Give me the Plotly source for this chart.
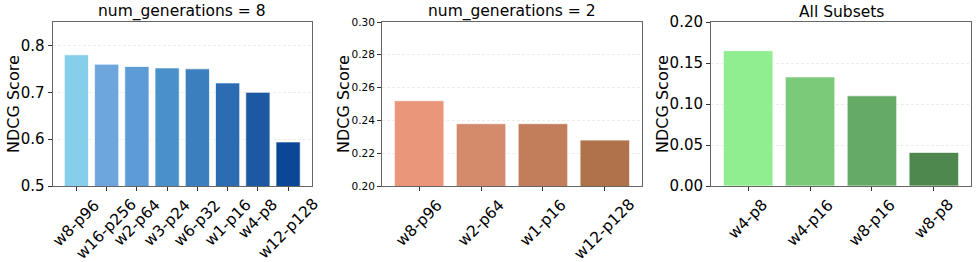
import plotly.graph_objects as go

W, H = 977, 262

# ---- data ----
cats_g8 = ["w8-p96", "w16-p256", "w2-p64", "w3-p24", "w6-p32", "w1-p16", "w4-p8", "w12-p128"]
vals_g8 = [0.780, 0.760, 0.755, 0.752, 0.750, 0.720, 0.700, 0.594]
cols_g8 = ["#87CEEB", "#6CA6DC", "#5C9BD5", "#4A90C9", "#3B7FBE", "#2B6CB3", "#1C59A2", "#0C4696"]

cats_g2 = ["w8-p96", "w2-p64", "w1-p16", "w12-p128"]
vals_g2 = [0.252, 0.238, 0.238, 0.228]
cols_g2 = ["#E9967A", "#D48B6B", "#C27D5A", "#B0724A"]

cats_all = ["w4-p8", "w4-p16", "w8-p16", "w8-p8"]
vals_all = [0.165, 0.133, 0.110, 0.041]
cols_all = ["#90EE90", "#7ACA7A", "#65AA65", "#4F884F"]

titles = ["num_generations = 8", "num_generations = 2", "All Subsets"]
yranges = [[0.5, 0.85], [0.20, 0.30], [0.0, 0.20]]
ytickvals = [[0.5, 0.6, 0.7, 0.8],
             [0.20, 0.22, 0.24, 0.26, 0.28, 0.30],
             [0.00, 0.05, 0.10, 0.15, 0.20]]
yticktext = [["0.5", "0.6", "0.7", "0.8"],
             ["0.20", "0.22", "0.24", "0.26", "0.28", "0.30"],
             ["0.00", "0.05", "0.10", "0.15", "0.20"]]
ytickfont = [15, 10.5, 15]
xranges = [[-0.79, 7.79], [-0.6, 3.6], [-0.6, 3.6]]

# pixel layout
xpix = [(52.5, 312), (382, 642), (711, 971)]
ytitle_px = [13, 343, 662]
top_px, bot_px = 22, 186

FONT = "DejaVu Sans"
fig = go.Figure()
panels = [(cats_g8, vals_g8, cols_g8), (cats_g2, vals_g2, cols_g2), (cats_all, vals_all, cols_all)]

ydom = [1 - bot_px / H, 1 - top_px / H]
annotations = []
for i, (cats, vals, cols) in enumerate(panels):
    n = "" if i == 0 else str(i + 1)
    fig.add_trace(go.Bar(
        x=cats, y=vals, width=0.8,
        marker=dict(color=cols, line=dict(color="rgba(255,255,255,0.7)", width=1)),
        xaxis="x" + n, yaxis="y" + n, showlegend=False,
    ))
    dom = [xpix[i][0] / W, xpix[i][1] / W]
    fig.layout["xaxis" + n] = dict(
        domain=dom, anchor="y" + n, type="category", range=xranges[i], automargin=False,
        showgrid=False, showline=True, linecolor="#666", linewidth=1, mirror=True,
        ticks="outside", ticklen=4, tickcolor="#333", showticklabels=False,
    )
    fig.layout["yaxis" + n] = dict(
        domain=ydom, anchor="x" + n, range=yranges[i], automargin=False,
        tickvals=ytickvals[i], ticktext=yticktext[i],
        tickfont=dict(family=FONT, size=ytickfont[i], color="black"),
        showgrid=True, gridcolor="#ececec", griddash="3px,2px", gridwidth=1,
        showline=True, linecolor="#666", linewidth=1, mirror=True,
        ticks="outside", ticklen=4, tickcolor="#333", zeroline=False,
    )
    xr = "x" + n
    for c in cats:
        annotations.append(dict(
            x=c, xref=xr, y=ydom[0], yref="paper", text=c, showarrow=False,
            textangle=-45, xanchor="center", yanchor="top", yshift=-7,
            font=dict(family=FONT, size=15.5, color="black"),
        ))
    annotations.append(dict(
        x=(xpix[i][0] + xpix[i][1]) / 2 / W, xref="paper", y=1 - 12 / H, yref="paper",
        text=titles[i], showarrow=False, xanchor="center", yanchor="middle",
        font=dict(family=FONT, size=15.5, color="black"),
    ))
    annotations.append(dict(
        x=ytitle_px[i] / W, xref="paper", y=(ydom[0] + ydom[1]) / 2, yref="paper",
        text="NDCG Score", showarrow=False, textangle=-90, xanchor="center", yanchor="middle",
        font=dict(family=FONT, size=16, color="black"),
    ))

fig.update_layout(
    template="none",
    width=W, height=H, margin=dict(l=0, r=0, t=0, b=0),
    paper_bgcolor="white", plot_bgcolor="white",
    annotations=annotations, bargap=0.2,
    font=dict(family=FONT),
)
fig.write_html("out.html", config={"displayModeBar": False},
               post_script="document.body.style.margin='0';")
